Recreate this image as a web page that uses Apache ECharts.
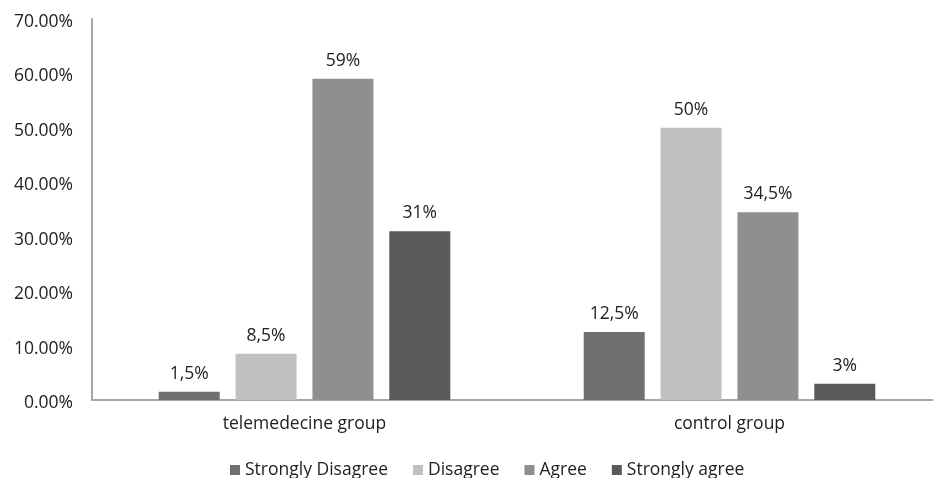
<!DOCTYPE html>
<html>
<head>
<meta charset="utf-8">
<script src="https://cdn.jsdelivr.net/npm/echarts@6/dist/echarts.min.js"></script>
<style>
html,body{margin:0;padding:0;background:#fff;}
#chart{width:933px;height:478px;}
</style>
</head>
<body>
<div id="chart"></div>
<script>
var categories = ['telemedecine group', 'control group'];
var seriesNames = ['Strongly Disagree', 'Disagree', 'Agree', 'Strongly agree'];
var stronglyDisagree = [1.5, 12.5];
var disagree = [8.5, 50];
var agree = [59, 34.5];
var stronglyAgree = [31, 3];
var valueLabels = [['1,5%', '12,5%'], ['8,5%', '50%'], ['59%', '34,5%'], ['31%', '3%']];
var yTicks = [0, 10, 20, 30, 40, 50, 60, 70];
var colors = ['#707070', '#c0c0c0', '#8f8f8f', '#5a5a5a'];

var font = '"Open Sans", "Noto Sans", sans-serif';
var fs = 17.5;
var allData = [stronglyDisagree, disagree, agree, stronglyAgree];
var chart = echarts.init(document.getElementById('chart'));
chart.setOption({
  animation: false,
  textStyle: {fontFamily: font},
  grid: {left: 92, width: 850, top: 19, height: 381, outerBoundsMode: 'none', containLabel: false},
  legend: {
    top: 456, left: 225,
    itemWidth: 10, itemHeight: 10, itemGap: 25, icon: 'rect',
    textStyle: {fontSize: fs, color: '#222', fontFamily: font},
    data: seriesNames
  },
  xAxis: {
    type: 'category', data: categories,
    axisLine: {lineStyle: {color: '#a6a6a6', width: 2}},
    axisTick: {show: false},
    axisLabel: {fontSize: fs, color: '#222', margin: 15, fontFamily: font}
  },
  yAxis: {
    type: 'value', min: yTicks[0], max: yTicks[yTicks.length - 1], interval: 10,
    axisLine: {show: true, lineStyle: {color: '#a6a6a6', width: 2}},
    axisTick: {show: false},
    splitLine: {show: false},
    axisLabel: {color: '#222', margin: 19,
      formatter: function (v) { return '{a|' + v.toFixed(2) + '%}'; },
      rich: {a: {fontSize: fs, color: '#222', fontFamily: font, padding: [6, 0, 0, 0]}}}
  },
  series: seriesNames.map(function (name, i) {
    return {
      name: name, type: 'bar', data: allData[i],
      barWidth: 61, barGap: '26%',
      itemStyle: {color: colors[i]},
      label: {
        show: true, position: 'top', distance: 9,
        fontSize: fs, color: '#222', fontFamily: font,
        formatter: function (p) { return valueLabels[i][p.dataIndex]; }
      }
    };
  })
});
</script>
</body>
</html>
